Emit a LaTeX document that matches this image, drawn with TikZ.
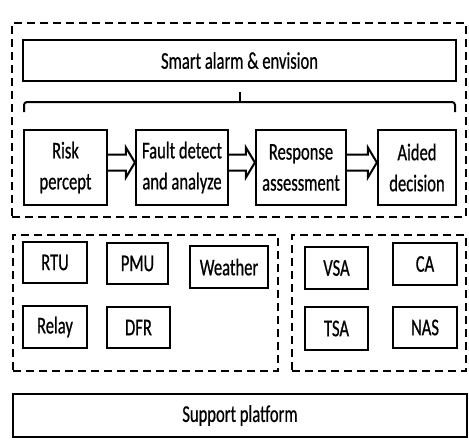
\documentclass[tikz,border=0pt]{standalone}
\usepackage{fontspec}
\setmainfont[FakeStretch=0.69,FakeBold=0.6]{Carlito}
\usetikzlibrary{calc}
\tikzset{
  box/.style={draw=black, line width=2.2pt, align=center, inner sep=0pt,
    font=\fontsize{24}{31}\selectfont},
  dbox/.style={draw=black, line width=2.8pt, dash pattern=on 8pt off 5pt, inner sep=0pt},
  hollow/.style={draw=black, line width=2pt, fill=white, line join=miter},
  bracel/.style={draw=black, line width=2pt, rounded corners=3pt}
}
\newcommand{\bx}[6]{\node[#1, minimum width={(#4)-(#2)}, minimum height={(#5)-(#3)}] (#6) at ({((#2)+(#4))/2},{((#3)+(#5))/2})}
\begin{document}
\begin{tikzpicture}[x=1pt,y=-1pt]
\useasboundingbox (0,0) rectangle (469,440);
% dashed groups
\bx{dbox}{12}{23}{466}{217}{top} {};
\bx{dbox}{13}{235}{278}{371}{lgrp} {};
\bx{dbox}{292}{235}{466}{371}{rgrp} {};
% top part
\bx{box}{23}{40}{456}{81}{smart} {Smart alarm \& envision};
\bx{box}{24}{130}{107}{205}{risk} {Risk\\percept};
\bx{box}{136}{130}{228}{205}{fault} {Fault detect\\and analyze};
\bx{box}{256}{130}{346}{205}{resp} {Response\\assessment};
\bx{box}{378}{130}{456}{205}{aided} {Aided\\decision};
% brace
\coordinate (bl) at (24,112);
\coordinate (br) at (455,112);
\draw[bracel] (bl) -- (24,102) -- (455,102) -- (br);
\draw[line width=2pt] (smart.south |- 0,102) -- (smart.south |- 0,92);
% hollow arrows
\foreach \a/\b in {risk/fault, fault/resp, resp/aided}{
  \draw[hollow] ($(\a.east)+(0,-13)$) -- ($(\b.west)+(-9,-13)$) -- ($(\b.west)+(-9,-20)$)
    -- ($(\b.west)+(0,-5)$) -- ($(\b.west)+(-9,10)$) -- ($(\b.west)+(-9,3)$)
    -- ($(\a.east)+(0,3)$);
}
% data sources
\bx{box}{23}{242}{87}{283}{rtu} {RTU};
\bx{box}{107}{243}{168}{284}{pmu} {PMU};
\bx{box}{190}{246}{268}{288}{weather} {Weather};
\bx{box}{23}{306}{87}{348}{relay} {Relay};
\bx{box}{107}{307}{170}{348}{dfr} {DFR};
% analysis
\bx{box}{305}{247}{368}{289}{vsa} {VSA};
\bx{box}{393}{243}{457}{285}{ca} {CA};
\bx{box}{305}{307}{368}{350}{tsa} {TSA};
\bx{box}{393}{307}{457}{348}{nas} {NAS};
% support
\bx{box}{13}{394}{467}{437}{support} {Support platform};
\end{tikzpicture}
\end{document}
